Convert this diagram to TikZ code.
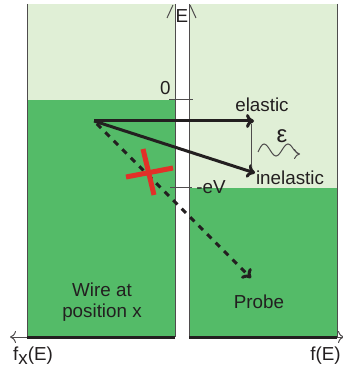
\documentclass[tikz,border=0pt]{standalone}
\usepackage{fontspec}
\setmainfont{Liberation Sans}
\usetikzlibrary{arrows.meta}
\definecolor{seatop}{RGB}{224,239,214}
\definecolor{seafull}{RGB}{84,187,104}
\definecolor{crossred}{RGB}{226,48,40}
\definecolor{inkgrey}{RGB}{35,31,32}
\begin{document}
\begin{tikzpicture}[x=0.5pt,y=-0.5pt,
    font=\fontsize{9.4}{10.5}\selectfont,
    every node/.style={text=inkgrey,inner sep=0pt},
    thinline/.style={line width=0.5pt,draw=inkgrey!80},
    bigarrow/.style={line width=1.5pt,draw=inkgrey,-{To[length=4pt,width=7pt]}},
    axisline/.style={line width=1.5pt,draw=inkgrey}]
        \useasboundingbox (0,0) rectangle (342,367);
        % wire and probe
        \fill[seatop] (27,4) rectangle (175,100);
        \fill[seafull] (27,100) rectangle (175,337);
        \fill[seatop] (189,4) rectangle (337,188);
        \fill[seafull] (189,188) rectangle (337,337);
        \foreach \X in {27,175,189,337} {
            \draw[thinline] (\X,4) -- (\X,337);}

        % energy axis
        \draw[thinline] (167,18) -- (173,5);
        \draw[thinline] (190,5) -- (196,18);
        \node (E) at (182,16) {E};
        \draw[thinline] (169,100) -- (193,100);
        \node[anchor=east] (zero) at (171,88) {0};
        \draw[thinline] (170,188) -- (192,188);
        \node[anchor=west] (eV) at (196,187) {-eV};

        % f axes
        \draw[axisline] (175,337) -- (27,337);
        \coordinate (fxend) at (10,337);
        \draw[thinline,-{To[length=3pt,width=6pt]}] (27,337) -- (fxend);
        \draw[axisline] (189,337) -- (337,337);
        \coordinate (fend) at (344,337);
        \draw[thinline,-{To[length=3pt,width=6pt]}] (337,337) -- (fend);
        \node (fx) at (33,356) {f\raisebox{-2pt}{x}(E)};
        \node[anchor=east] (f) at (341,356) {f(E)};

        % tunnelling
        \coordinate (src) at (94,121);
        \coordinate (el) at (254,121);
        \coordinate (inel) at (255,173);
        \coordinate (pr) at (251,278);
        \draw[bigarrow] (src) -- (el);
        \draw[bigarrow] (src) -- (inel);
        \draw[bigarrow,dash pattern=on 3pt off 3pt,dash phase=4pt] (src) -- (pr);
        \draw[thinline] (251,124) -- (251,167);
        \draw[crossred,line width=2.5pt] (126,177) -- (173,168);
        \draw[crossred,line width=2.5pt] (143,149) -- (154,195);

        \node (elastic) at (262,105) {elastic};
        \node (inelastic) at (290,178) {inelastic};
        \node (eps) at (282,136) {\fontsize{12}{12}\selectfont ε};
        \draw[thinline,-{To[length=3pt,width=5pt]}] (258,152) sin (264,144) cos (270,150) sin (276,156) cos (282,150) sin (288,144) cos (294,150) sin (300,154);

        \node[align=center] (wire) at (102,302) {Wire at\\position x};
        \node (probe) at (259,302) {Probe};
\end{tikzpicture}
\end{document}
